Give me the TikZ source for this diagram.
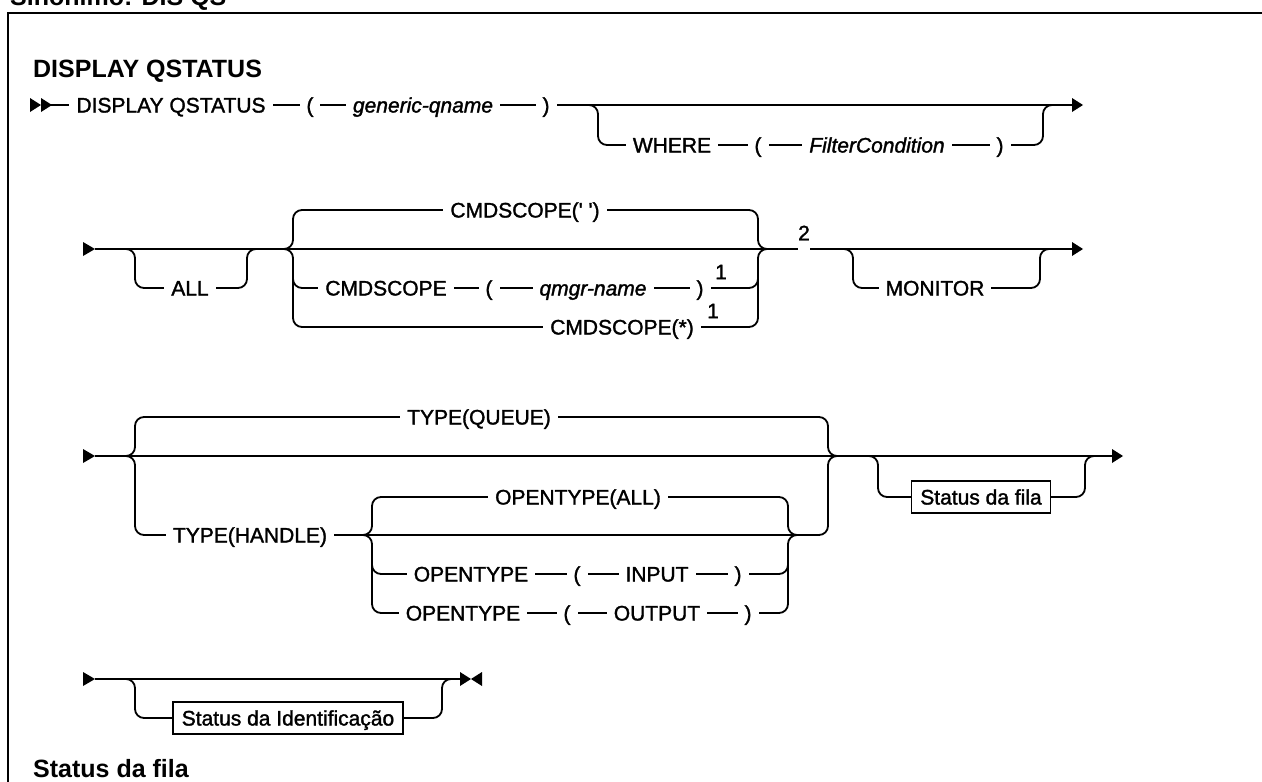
\documentclass[tikz,border=0pt]{standalone}
\usepackage{fontspec}
\setmainfont{Liberation Sans}
\newfontfamily\railfam{Liberation Sans}[FakeBold=1.5]
\newcommand\rrfont{\railfam\fontsize{21}{25}\selectfont}
\newcommand\hdfont{\fontsize{25}{30}\selectfont\bfseries}
\begin{document}
\begin{tikzpicture}[x=1pt,y=-1pt,
  rail/.style={line width=1.8pt, rounded corners=9pt},
  tok/.style={fill=white, inner xsep=7pt, inner ysep=1.5pt, text height=15pt, text depth=0pt, font=\rrfont},
  itok/.style={tok, font=\rrfont\itshape},
  refbox/.style={draw, line width=1.5pt, fill=white, inner xsep=9pt, minimum height=32pt, text height=15pt, text depth=0pt, font=\rrfont},
  fnote/.style={font=\rrfont, inner sep=0pt},
  head/.style={font=\hdfont, inner sep=0pt},
  gapnode/.style={fill=white, inner sep=0pt, minimum width=12pt, minimum height=4pt}
]
\useasboundingbox (0,0) rectangle (1262,782);
% frame
\draw[line width=2pt] (8,800) -- (8,13) -- (1280,13);
\node[head, anchor=base west] (syn) at (10,5) {Sinônimo: DIS QS};
\node[head, anchor=west] (h1) at (33,71) {DISPLAY QSTATUS};

% ---------------- Row 1
\coordinate (r1a) at (41,105);
\coordinate (r1b) at (1072,105);
\fill (30,98) -- (41,105) -- (30,112) -- cycle;
\fill (41,98) -- (52,105) -- (41,112) -- cycle;
\draw[rail] (r1a) -- (r1b);
\fill (1072,98) -- (1083,105) -- (1072,112) -- cycle;
\draw[rail] (580,105) -- (598,105) -- (598,145) -- (1043,145) -- (1043,105) -- (1061,105);
\node[tok] (disp) at (171,105) {DISPLAY QSTATUS};
\node[tok] (lp1) at (310,105) {(};
\node[itok] (gq) at (423,105) {generic-qname};
\node[tok] (rp1) at (546,105) {)};
\node[tok] (where) at (672,145) {WHERE};
\node[tok] (lp2) at (758,145) {(};
\node[itok] (fc) at (877,145) {FilterCondition};
\node[tok] (rp2) at (1000,145) {)};

% ---------------- Row 2
\coordinate (r2a) at (95,249);
\coordinate (r2b) at (1072,249);
\fill (83,242) -- (95,249) -- (83,256) -- cycle;
\draw[rail] (r2a) -- (r2b);
\fill (1072,242) -- (1083,249) -- (1072,256) -- cycle;
% ALL
\draw[rail] (115,249) -- (135,249) -- (135,288) -- (247,288) -- (247,249) -- (265,249);
\node[tok] (all) at (190,288) {ALL};
% CMDSCOPE group
\draw[rail] (280,249) -- (293,249) -- (293,210) -- (758,210) -- (758,249) -- (770,249);
\draw[rail] (280,249) -- (293,249) -- (293,327) -- (758,327) -- (758,249) -- (770,249);
\draw[rail] (293,265) -- (293,288) -- (758,288) -- (758,265);
\node[tok] (cs1) at (525,210) {CMDSCOPE(\textquotesingle\ \textquotesingle)};
\node[tok] (cs2) at (386,288) {CMDSCOPE};
\node[tok] (lp3) at (489,288) {(};
\node[itok] (qm) at (593,288) {qmgr-name};
\node[tok] (rp3) at (700,288) {)};
\node[fnote] (n1a) at (721,272) {1};
\node[tok] (cs3) at (622,327) {CMDSCOPE(*)};
\node[fnote] (n1b) at (713,311) {1};
\node[gapnode] (g2) at (804,249) {};
\node[fnote] (n2) at (804,233) {2};
% MONITOR
\draw[rail] (835,249) -- (853,249) -- (853,288) -- (1040,288) -- (1040,249) -- (1055,249);
\node[tok] (mon) at (935,288) {MONITOR};

% ---------------- Row 3
\coordinate (r3a) at (95,456);
\coordinate (r3b) at (1112,456);
\fill (83,449) -- (95,456) -- (83,463) -- cycle;
\draw[rail] (r3a) -- (r3b);
\fill (1112,449) -- (1123,456) -- (1112,463) -- cycle;
\draw[rail] (120,456) -- (135,456) -- (135,417) -- (828,417) -- (828,456) -- (843,456);
\draw[rail] (120,456) -- (135,456) -- (135,535) -- (828,535) -- (828,456) -- (843,456);
\node[tok] (tq) at (479,417) {TYPE(QUEUE)};
\node[tok] (th) at (250,535) {TYPE(HANDLE)};
% OPENTYPE group
\draw[rail] (355,535) -- (372,535) -- (372,497) -- (788,497) -- (788,535) -- (805,535);
\draw[rail] (355,535) -- (372,535) -- (372,613) -- (788,613) -- (788,535) -- (805,535);
\draw[rail] (372,552) -- (372,574) -- (788,574) -- (788,552);
\node[tok] (oa) at (578,497) {OPENTYPE(ALL)};
\node[tok] (oi1) at (471,574) {OPENTYPE};
\node[tok] (lp4) at (577,574) {(};
\node[tok] (inp) at (657,574) {INPUT};
\node[tok] (rp4) at (738,574) {)};
\node[tok] (oo1) at (463,613) {OPENTYPE};
\node[tok] (lp5) at (567,613) {(};
\node[tok] (outp) at (657,613) {OUTPUT};
\node[tok] (rp5) at (748,613) {)};
% Status da fila
\draw[rail] (860,456) -- (878,456) -- (878,497) -- (1085,497) -- (1085,456) -- (1100,456);
\node[refbox] (sdf) at (981,497) {Status da fila};

% ---------------- Row 4
\coordinate (r4a) at (95,679);
\coordinate (r4b) at (460,679);
\fill (83,672) -- (95,679) -- (83,686) -- cycle;
\draw[rail] (r4a) -- (r4b);
\draw[rail] (115,679) -- (135,679) -- (135,718) -- (442,718) -- (442,679) -- (455,679);
\node[refbox] (sdi) at (288,718) {Status da Identificação};
\fill (460,672) -- (471,679) -- (460,686) -- cycle;
\fill (482,672) -- (471,679) -- (482,686) -- cycle;

\node[head, anchor=base west] (h2) at (33,777) {Status da fila};
\end{tikzpicture}
\end{document}
